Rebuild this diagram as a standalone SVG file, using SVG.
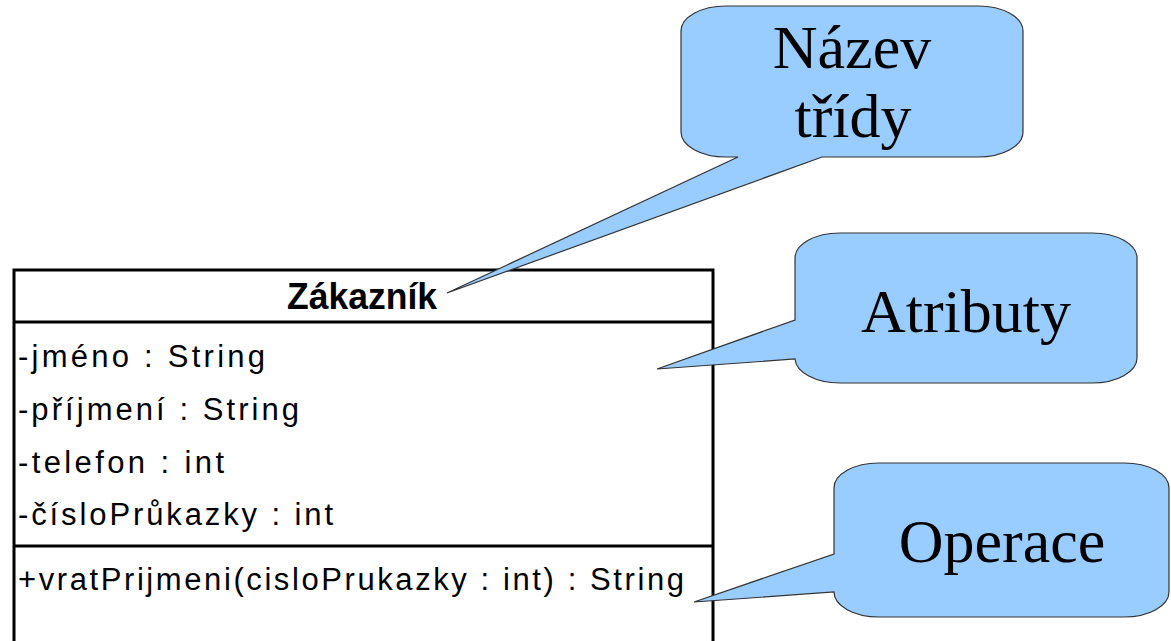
<svg xmlns="http://www.w3.org/2000/svg" width="1171" height="641" viewBox="0 0 1171 641">
<style>
.box{fill:#ffffff;stroke:#000000;stroke-width:3}
.div{stroke:#000000;stroke-width:3}
.title{font-family:"Liberation Sans",Arial,sans-serif;font-weight:bold;font-size:36px;fill:#000}
.attr{font-family:"Liberation Sans",Arial,sans-serif;font-size:31px;fill:#000}
.callout{fill:#99ccff;stroke:#333333;stroke-width:1.2}
.ctext{font-family:"Liberation Serif","Times New Roman",serif;font-size:62px;fill:#000;text-anchor:middle}
</style>
<rect width="1171" height="641" fill="#ffffff"/>
<g id="class-zakaznik">
  <rect class="box" x="14" y="270" width="699" height="380"/>
  <line class="div" x1="14" y1="322" x2="713" y2="322"/>
  <line class="div" x1="14" y1="546" x2="713" y2="546"/>
  <text class="title" x="287" y="309" textLength="150" lengthAdjust="spacingAndGlyphs">Zákazník</text>
  <text class="attr" x="18" y="367" textLength="247" lengthAdjust="spacing">-jméno : String</text>
  <text class="attr" x="18" y="420" textLength="281" lengthAdjust="spacing">-příjmení : String</text>
  <text class="attr" x="18" y="473" textLength="206" lengthAdjust="spacing">-telefon : int</text>
  <text class="attr" x="18" y="525" textLength="315" lengthAdjust="spacing">-čísloPrůkazky : int</text>
  <text class="attr" x="18" y="590" textLength="666" lengthAdjust="spacing">+vratPrijmeni(cisloPrukazky : int) : String</text>
</g>
<g id="connectors">
  <g id="callout-nazev">
    <path class="callout" d="M726,6 H978 A45,25 0 0 1 1023,31 V132 A45,25 0 0 1 978,157 H822 L447,293 L738,157 H726 A45,25 0 0 1 681,132 V31 A45,25 0 0 1 726,6 Z"/>
  </g>
  <g id="callout-atributy">
    <path class="callout" d="M840,233 H1092 A45,25 0 0 1 1137,258 V358 A45,25 0 0 1 1092,383 H840 A45,25 0 0 1 795,359 L657,369 L795,320 V258 A45,25 0 0 1 840,233 Z"/>
  </g>
  <g id="callout-operace">
    <path class="callout" d="M879,463 H1124 A45,25 0 0 1 1169,488 V592 A45,25 0 0 1 1124,617 H879 A45,25 0 0 1 834,592 L694,602 L834,554 V488 A45,25 0 0 1 879,463 Z"/>
  </g>
</g>
<g id="label-nazev">
  <text class="ctext" x="852" y="68">Název</text>
  <text class="ctext" x="853" y="137">třídy</text>
</g>
<g id="label-atributy">
  <text class="ctext" x="966" y="332">Atributy</text>
</g>
<g id="label-operace">
  <text class="ctext" x="1002" y="562">Operace</text>
</g>
</svg>
